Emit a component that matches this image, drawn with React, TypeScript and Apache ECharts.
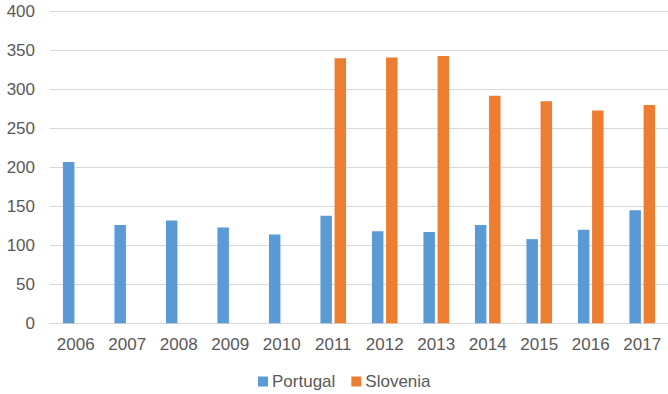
import React, { useEffect, useRef } from "react";
import * as echarts from "echarts";

const years = ["2006", "2007", "2008", "2009", "2010", "2011", "2012", "2013", "2014", "2015", "2016", "2017"];
const portugal = [207, 126, 132, 123, 114, 138, 118, 117, 126, 108, 120, 145];
const slovenia = [null, null, null, null, null, 340, 341, 343, 292, 285, 273, 280];
const yTicks = { min: 0, max: 400, interval: 50 };

export default function App() {
  const ref = useRef<HTMLDivElement>(null);
  useEffect(() => {
    if (!ref.current) return;
    const chart = echarts.init(ref.current, null, { renderer: "svg" });
    const font = "'Liberation Sans', Arial, sans-serif";
    chart.setOption({
      animation: false,
      grid: { left: 50, right: 0, top: 11.5, bottom: 70.7, containLabel: false },
      legend: {
        left: 253,
        top: 368,
        itemWidth: 10,
        itemHeight: 10,
        itemGap: 16,
        icon: "rect",
        textStyle: { color: "#595959", fontSize: 17, fontFamily: font, padding: [0, 0, 0, -1] },
        data: ["Portugal", "Slovenia"],
      },
      xAxis: {
        type: "category",
        data: years,
        axisLine: { show: true, lineStyle: { color: "#D9D9D9", width: 1 } },
        axisTick: { show: false },
        axisLabel: { color: "#595959", fontSize: 17, fontFamily: font, margin: 13 },
      },
      yAxis: {
        type: "value",
        min: yTicks.min,
        max: yTicks.max,
        interval: yTicks.interval,
        axisLine: { show: false },
        axisTick: { show: false },
        splitLine: { lineStyle: { color: "#D9D9D9", width: 1 } },
        axisLabel: { color: "#595959", fontSize: 17, fontFamily: font, margin: 15 },
      },
      series: [
        {
          name: "Portugal",
          type: "bar",
          data: portugal,
          barWidth: 11.5,
          barGap: "23%",
          itemStyle: { color: "#5B9BD5" },
        },
        {
          name: "Slovenia",
          type: "bar",
          data: slovenia,
          barWidth: 11.5,
          itemStyle: { color: "#ED7D31" },
        },
      ],
    });
    return () => chart.dispose();
  }, []);
  return (
    <div
      ref={ref}
      style={{ position: "fixed", left: 0, top: 0, width: 668, height: 394, background: "#fff" }}
    />
  );
}
